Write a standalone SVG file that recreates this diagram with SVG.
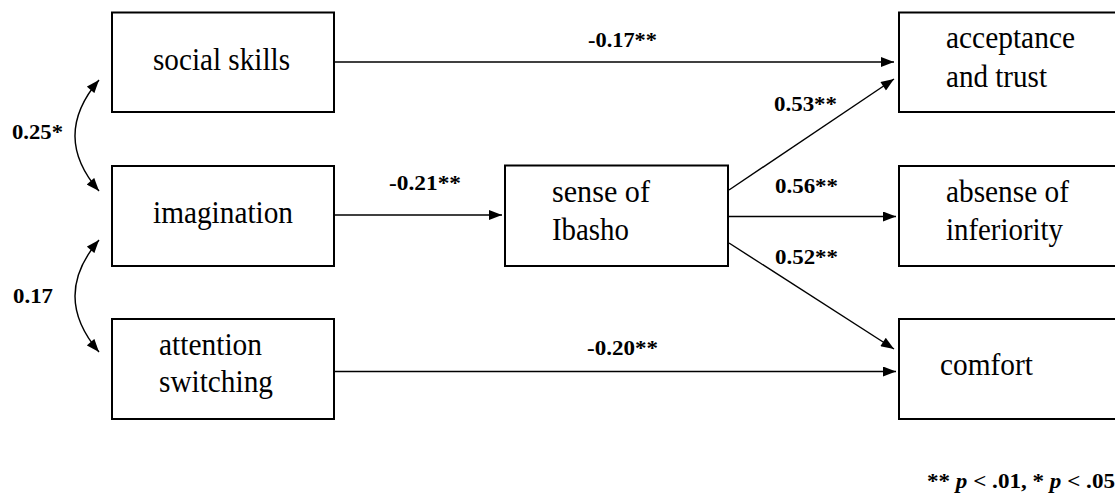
<svg xmlns="http://www.w3.org/2000/svg" width="1115" height="495" viewBox="0 0 1115 495">
<style>
.box{fill:#fff;stroke:#000;stroke-width:2}
.t{font-family:"Liberation Serif","Times New Roman",serif;font-size:31px;fill:#000}
.c{fill:none;stroke:#000;stroke-width:1.4}
.l{font-family:"Liberation Serif","Times New Roman",serif;font-size:20px;font-weight:bold;fill:#000}
</style>
<defs>
<marker id="ah" viewBox="0 0 13 10" refX="13" refY="5" markerWidth="14" markerHeight="10" markerUnits="userSpaceOnUse" orient="auto-start-reverse">
<path d="M0,0 L13,5 L0,10 Z" fill="#000"/>
</marker>
</defs>
<rect width="1115" height="495" fill="#fff"/>
<g id="social"><rect class="box" x="112" y="12.5" width="222" height="99.5"/><text class="t" x="153" y="70" textLength="137" lengthAdjust="spacingAndGlyphs">social skills</text></g>
<g id="imagination"><rect class="box" x="112" y="166" width="222" height="100"/><text class="t" x="153" y="223" textLength="140" lengthAdjust="spacingAndGlyphs">imagination</text></g>
<g id="attention"><rect class="box" x="112" y="319" width="222" height="100"/><text class="t" x="159" y="355" textLength="103" lengthAdjust="spacingAndGlyphs">attention</text><text class="t" x="159" y="392" textLength="114" lengthAdjust="spacingAndGlyphs">switching</text></g>
<g id="ibasho"><rect class="box" x="505" y="165.5" width="223" height="100.5"/><text class="t" x="552" y="202" textLength="98" lengthAdjust="spacingAndGlyphs">sense of</text><text class="t" x="552" y="240" textLength="77" lengthAdjust="spacingAndGlyphs">Ibasho</text></g>
<g id="acceptance"><rect class="box" x="899" y="12.5" width="220" height="99.5"/><text class="t" x="946" y="48" textLength="129" lengthAdjust="spacingAndGlyphs">acceptance</text><text class="t" x="946" y="87" textLength="101" lengthAdjust="spacingAndGlyphs">and trust</text></g>
<g id="absense"><rect class="box" x="899" y="166" width="220" height="100"/><text class="t" x="946" y="202" textLength="123" lengthAdjust="spacingAndGlyphs">absense of</text><text class="t" x="946" y="240" textLength="117" lengthAdjust="spacingAndGlyphs">inferiority</text></g>
<g id="comfort"><rect class="box" x="899" y="319" width="220" height="100"/><text class="t" x="940" y="375" textLength="93" lengthAdjust="spacingAndGlyphs">comfort</text></g>
<g id="connectors">
<line class="c" x1="335" y1="62" x2="894" y2="62" marker-end="url(#ah)"/>
<line class="c" x1="335" y1="215" x2="502" y2="215" marker-end="url(#ah)"/>
<line class="c" x1="729" y1="216.5" x2="896" y2="216.5" marker-end="url(#ah)"/>
<line class="c" x1="335" y1="371.5" x2="896" y2="371.5" marker-end="url(#ah)"/>
<line class="c" x1="729" y1="190" x2="894" y2="79" marker-end="url(#ah)"/>
<line class="c" x1="729" y1="243" x2="894" y2="349" marker-end="url(#ah)"/>
<path class="c" d="M99,80 Q51,136 99,191" marker-start="url(#ah)" marker-end="url(#ah)"/>
<path class="c" d="M99,240 Q51,296 99,352" marker-start="url(#ah)" marker-end="url(#ah)"/>
</g>
<g id="labels">
<text class="l" x="588" y="47" textLength="69" lengthAdjust="spacingAndGlyphs">-0.17**</text>
<text class="l" x="774" y="111" textLength="63" lengthAdjust="spacingAndGlyphs">0.53**</text>
<text class="l" x="389" y="190" textLength="72" lengthAdjust="spacingAndGlyphs">-0.21**</text>
<text class="l" x="775" y="193" textLength="63" lengthAdjust="spacingAndGlyphs">0.56**</text>
<text class="l" x="775" y="264" textLength="63" lengthAdjust="spacingAndGlyphs">0.52**</text>
<text class="l" x="587" y="355" textLength="71" lengthAdjust="spacingAndGlyphs">-0.20**</text>
<text class="l" x="12" y="139" textLength="51" lengthAdjust="spacingAndGlyphs">0.25*</text>
<text class="l" x="13" y="303" textLength="40" lengthAdjust="spacingAndGlyphs">0.17</text>
<text class="l" x="927" y="488" textLength="188" lengthAdjust="spacingAndGlyphs">** <tspan font-style="italic">p</tspan> &lt; .01, * <tspan font-style="italic">p</tspan> &lt; .05</text>
</g>
</svg>
